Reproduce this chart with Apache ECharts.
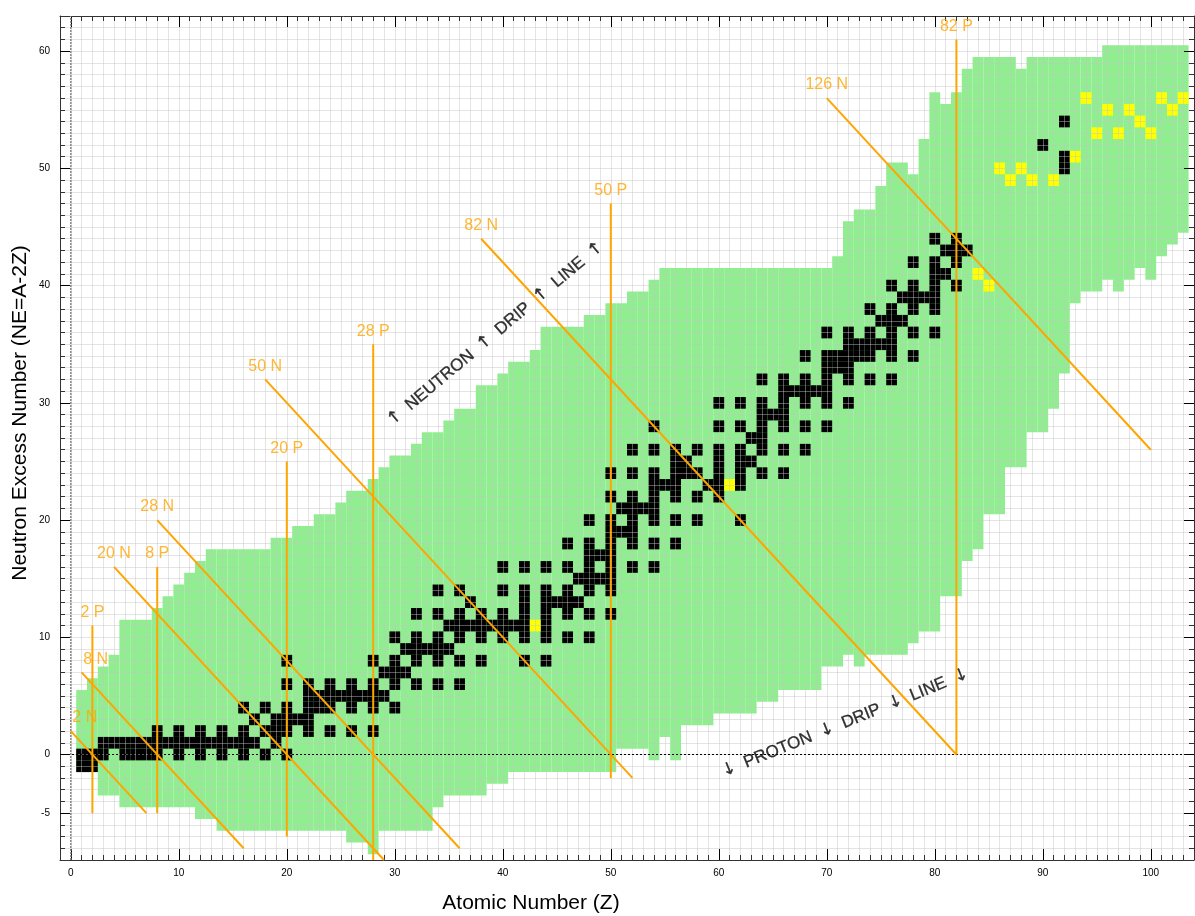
<!DOCTYPE html>
<html><head><meta charset="utf-8">
<script src="https://cdn.jsdelivr.net/npm/echarts@6/dist/echarts.min.js"></script>
<style>html,body{margin:0;padding:0;background:#fff}#c{width:1195px;height:916px}</style>
</head><body><div id="c"></div><script>
// ---------- data ----------
// upper edge (max NE) of known nuclides, Z = 1..103
const greenTop = [
  5,6,7,8,11,11,11,12,13,14,
  15,16,17,17,17,17,17,17,18,18,
  19,19,20,20,21,22,22,23,24,25,
  25,26,27,27,28,29,29,31,31,32,
  33,33,34,36,36,36,36,37,37,38,
  38,39,39,40,41,41,41,41,41,41,
  41,41,41,41,41,41,41,41,41,41,
  42,45,46,46,48,50,50,49,52,56,
  55,56,58,59,59,59,59,58,59,59,
  59,59,59,59,59,60,60,60,60,60,
  60,60,60];
// lower edge (min NE) of known nuclides, Z = 1..103
const greenBottom = [
  -1,-1,-3,-3,-4,-4,-4,-4,-4,-4,
  -4,-5,-5,-6,-6,-6,-6,-6,-6,-6,
  -6,-6,-6,-6,-6,-7,-7,-8,-6,-6,
  -6,-6,-6,-4,-3,-3,-3,-3,-2,-2,
  -1,-1,-1,-1,-1,-1,-1,-1,-1,-1,
  1,1,1,0,2,0,3,3,3,4,
  4,4,4,5,5,6,6,6,6,8,
  8,9,8,9,9,9,9,10,11,11,
  14,14,17,18,21,21,25,25,28,28,
  30,33,39,40,40,41,40,41,42,41,
  43,44,45];
// stable / primordial mass numbers A, Z = 1..92
const stableA = [
  [1,2],[3,4],[6,7],[9],[10,11],[12,13],[14,15],[16,17,18],[19],[20,21,22],
  [23],[24,25,26],[27],[28,29,30],[31],[32,33,34,36],[35,37],[36,38,40],[39,40,41],[40,42,43,44,46,48],
  [45],[46,47,48,49,50],[50,51],[50,52,53,54],[55],[54,56,57,58],[59],[58,60,61,62,64],[63,65],[64,66,67,68,70],
  [69,71],[70,72,73,74,76],[75],[74,76,77,78,80,82],[79,81],[78,80,82,83,84,86],[85,87],[84,86,87,88],[89],[90,91,92,94,96],
  [93],[92,94,95,96,97,98,100],[],[96,98,99,100,101,102,104],[103],[102,104,105,106,108,110],[107,109],[106,108,110,111,112,113,114,116],[113,115],[112,114,115,116,117,118,119,120,122,124],
  [121,123],[120,122,123,124,125,126,128,130],[127],[124,126,128,129,130,131,132,134,136],[133],[130,132,134,135,136,137,138],[138,139],[136,138,140,142],[141],[142,143,144,145,146,148,150],
  [],[144,147,148,149,150,152,154],[151,153],[152,154,155,156,157,158,160],[159],[156,158,160,161,162,163,164],[165],[162,164,166,167,168,170],[169],[168,170,171,172,173,174,176],
  [175,176],[174,176,177,178,179,180],[180,181],[180,182,183,184,186],[185,187],[184,186,187,188,189,190,192],[191,193],[190,192,194,195,196,198],[197],[196,198,199,200,201,202,204],
  [203,205],[204,206,207,208],[209],[],[],[],[],[],[],[232],
  [],[234,235,238]];
// longest-lived isotopes of elements without stable ones
const yellowZ  = [43,61,84,85,86,87,88,89,91,93,94,95,96,97,98,99,100,101,102,103];
const yellowNE = [11,23,41,40,50,49,50,49,49,51,56,53,55,53,55,54,53,56,55,56];
// magic numbers
const protonMagic   = [2, 8, 20, 28, 50, 82];
const protonNETop   = [11, 16, 25, 35, 47, 61];
const protonNEBot   = [-5, -5, -7, -9, -2, 0];
const neutronMagic  = [2, 8, 20, 28, 50, 82, 126];
const neutronZStart = [0, 1, 4, 8, 18, 38, 70];
const neutronZEnd   = [7, 16, 29, 36, 52, 82, 100];
const xLabels = [0,10,20,30,40,50,60,70,80,90,100];
const yLabels = [-5,0,10,20,30,40,50,60];

// ---------- build ----------
const FONT = '"Liberation Sans", Arial, Helvetica, sans-serif';
const ORANGE = '#FFA500';
const greenData = greenTop.map((t, i) => [i + 1, greenBottom[i], t]);
const blackData = [];
stableA.forEach((list, i) => { const z = i + 1; list.forEach(a => blackData.push([z, a - 2 * z, a - 2 * z])); });
const yellowData = yellowZ.map((z, i) => [z, yellowNE[i], yellowNE[i]]);

function cellSeries(name, data, color, z) {
  return {
    type: 'custom', name, data, z, silent: true, animation: false,
    encode: { x: 0, y: [1, 2] },
    renderItem: function (params, api) {
      const zz = api.value(0), lo = api.value(1), hi = api.value(2);
      const p1 = api.coord([zz - 0.5, hi + 0.5]);
      const p2 = api.coord([zz + 0.5, lo - 0.5]);
      return { type: 'rect', shape: { x: p1[0], y: p1[1], width: p2[0] - p1[0], height: p2[1] - p1[1] },
               style: { fill: color } };
    }
  };
}

const lineSeries = [];
const labelData = [];
protonMagic.forEach((p, i) => {
  lineSeries.push({ type: 'line', data: [[p, protonNETop[i]], [p, protonNEBot[i]]], symbol: 'none', z: 6,
    silent: true, animation: false, lineStyle: { color: ORANGE, width: 2 } });
  labelData.push({ value: [p, protonNETop[i]], name: p + ' P', label: { offset: [0, -13] } });
});
neutronMagic.forEach((n, i) => {
  const z0 = neutronZStart[i], z1 = neutronZEnd[i];
  lineSeries.push({ type: 'line', data: [[z0, n - z0], [z1, n - z1]], symbol: 'none', z: 6,
    silent: true, animation: false, lineStyle: { color: ORANGE, width: 2 } });
  labelData.push({ value: [z0, n - z0], name: n + ' N', label: { offset: [z0 <= 1 ? 14 : 0, -13] } });
});

const gridLine = 'rgba(195,195,195,0.45)';
const axisCol = '#333';
function baseAxis(extra) {
  return Object.assign({ type: 'value', gridIndex: 0, z: 4, axisLine: { show: false, onZero: false },
    axisLabel: { show: false }, splitLine: { show: false } }, extra);
}
const arrowRich = { a: { fontSize: 17, color: '#000', fontFamily: '"DejaVu Sans", sans-serif',
  textBorderColor: '#000', textBorderWidth: 0.3 } };

const option = {
  animation: false,
  backgroundColor: '#fff',
  grid: { left: 60, right: 1, top: 16, bottom: 56, show: false },
  xAxis: [
    baseAxis({ min: -1, max: 104, interval: 1, position: 'bottom',
      axisLine: { show: true, onZero: false, lineStyle: { color: axisCol } },
      axisTick: { show: true, inside: true, length: 5, lineStyle: { color: axisCol } },
      splitLine: { show: true, lineStyle: { color: gridLine, width: 1 } } }),
    baseAxis({ min: -1, max: 104, position: 'bottom',
      axisTick: { show: true, inside: true, length: 11, customValues: xLabels, lineStyle: { color: '#000' } },
      axisLabel: { show: true, customValues: xLabels, color: '#000', fontSize: 10, fontFamily: FONT, margin: 8 } }),
    baseAxis({ min: -1, max: 104, interval: 1, position: 'top',
      axisLine: { show: true, onZero: false, lineStyle: { color: axisCol } },
      axisTick: { show: true, inside: true, length: 5, lineStyle: { color: axisCol } } }),
    baseAxis({ min: -1, max: 104, position: 'top',
      axisTick: { show: true, inside: true, length: 11, customValues: xLabels, lineStyle: { color: '#000' } } })
  ],
  yAxis: [
    baseAxis({ min: -9, max: 63, interval: 1, position: 'left',
      axisLine: { show: true, onZero: false, lineStyle: { color: axisCol } },
      axisTick: { show: true, inside: true, length: 5, lineStyle: { color: axisCol } },
      splitLine: { show: true, lineStyle: { color: gridLine, width: 1 } } }),
    baseAxis({ min: -9, max: 63, position: 'left',
      axisTick: { show: true, inside: true, length: 10, customValues: yLabels, lineStyle: { color: '#000' } },
      axisLabel: { show: true, customValues: yLabels, color: '#000', fontSize: 10, fontFamily: FONT, margin: 10 } }),
    baseAxis({ min: -9, max: 63, interval: 1, position: 'right',
      axisLine: { show: true, onZero: false, lineStyle: { color: axisCol } },
      axisTick: { show: true, inside: true, length: 5, lineStyle: { color: axisCol } } }),
    baseAxis({ min: -9, max: 63, position: 'right',
      axisTick: { show: true, inside: true, length: 10, customValues: yLabels, lineStyle: { color: '#000' } } })
  ],
  series: [
    cellSeries('known', greenData, '#90EE90', 1),
    cellSeries('stable', blackData, '#000000', 2),
    cellSeries('longest-lived', yellowData, '#FFFF00', 2),
    {
      type: 'line', data: [[-1, 0], [104, 0]], symbol: 'none', z: 5, silent: true, animation: false,
      lineStyle: { color: '#000', width: 1, type: [2, 2] }
    },
    {
      type: 'line', data: [[0, -9], [0, 63]], symbol: 'none', z: 5, silent: true, animation: false,
      lineStyle: { color: '#888', width: 1.5, type: [2, 1] }
    },
    ...lineSeries,
    {
      type: 'scatter', data: labelData, symbolSize: 1, z: 7, silent: true, animation: false,
      itemStyle: { color: 'rgba(0,0,0,0)' },
      label: { show: true, position: 'inside', formatter: '{b}', color: ORANGE, fontSize: 16, fontFamily: FONT, textBorderWidth: 0 }
    },
    {
      type: 'scatter', symbolSize: 1, z: 7, silent: true, animation: false,
      itemStyle: { color: 'rgba(0,0,0,0)' },
      data: [
        { value: [39.3, 35.9], name: 'n', label: { rotate: 40,
          formatter: '{a|↑}  NEUTRON  {a|↑}  DRIP  {a|↑}  LINE  {a|↑}' } },
        { value: [71.7, 2.7], name: 'p', label: { rotate: 22,
          formatter: '{a|↓}  PROTON  {a|↓}  DRIP  {a|↓}  LINE  {a|↓}' } }
      ],
      label: { show: true, position: 'inside', color: '#000', fontSize: 17, fontFamily: FONT,
        textBorderColor: '#000', textBorderWidth: 0.3, rich: arrowRich }
    }
  ],
  graphic: [
    { type: 'text', x: 531, y: 903, style: { text: 'Atomic Number (Z)', font: '21px ' + FONT, fill: '#000', align: 'center', verticalAlign: 'middle' } },
    { type: 'text', x: 20, y: 413, rotation: Math.PI / 2, style: { text: 'Neutron Excess Number (NE=A-2Z)', font: '21px ' + FONT, fill: '#000', align: 'center', verticalAlign: 'middle' } }
  ]
};
const chart = echarts.init(document.getElementById('c'), null, { renderer: 'canvas' });
chart.setOption(option);
</script></body></html>
